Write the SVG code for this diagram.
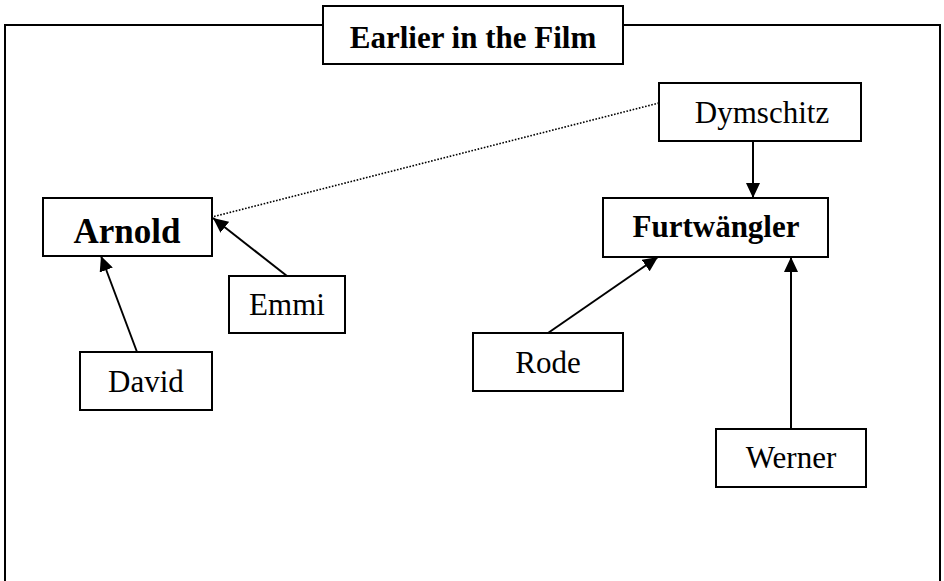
<svg xmlns="http://www.w3.org/2000/svg" width="944" height="581" viewBox="0 0 944 581">
  <style>
    .box { fill: #fff; stroke: #000; stroke-width: 2; }
    .lbl { font-family: "Liberation Serif", "Times New Roman", serif; font-size: 31px; fill: #000; text-anchor: middle; }
    .bold { font-weight: bold; }
    .edge { stroke: #000; stroke-width: 2; fill: none; marker-end: url(#arrow); }
    .dotted { stroke: #000; stroke-width: 1.6; stroke-dasharray: 1.6 1.6; fill: none; }
  </style>
  <defs>
    <marker id="arrow" markerUnits="userSpaceOnUse" markerWidth="16" markerHeight="14" refX="15" refY="7" orient="auto">
      <path d="M0,0 L15,7 L0,14 z" fill="#000"/>
    </marker>
  </defs>
  <rect width="944" height="581" fill="#fff"/>

  <!-- outer frame -->
  <rect id="frame" x="5" y="25" width="935" height="575" fill="none" stroke="#000" stroke-width="2"/>

  <!-- title -->
  <g id="title">
    <rect class="box" x="323" y="6" width="300" height="58"/>
    <text class="lbl bold" x="473" y="48">Earlier in the Film</text>
  </g>

  <!-- connectors -->
  <g id="connectors">
    <line class="dotted" x1="659" y1="103" x2="212" y2="217"/>
    <line class="edge" x1="287" y1="276" x2="213" y2="218"/>
    <line class="edge" x1="137" y1="352" x2="101" y2="256"/>
    <line class="edge" x1="753" y1="141" x2="753" y2="198"/>
    <line class="edge" x1="548" y1="333" x2="658" y2="257"/>
    <line class="edge" x1="791" y1="429" x2="791" y2="257"/>
  </g>

  <g id="arnold">
    <rect class="box" x="43" y="198" width="169" height="58"/>
    <text class="lbl bold" x="127" y="243" style="font-size:35px">Arnold</text>
  </g>
  <g id="emmi">
    <rect class="box" x="229" y="276" width="116" height="57"/>
    <text class="lbl" x="287" y="315">Emmi</text>
  </g>
  <g id="david">
    <rect class="box" x="80" y="352" width="132" height="58"/>
    <text class="lbl" x="146" y="392">David</text>
  </g>
  <g id="dymschitz">
    <rect class="box" x="659" y="83" width="202" height="58"/>
    <text class="lbl" x="762" y="123">Dymschitz</text>
  </g>
  <g id="furtwaengler">
    <rect class="box" x="603" y="198" width="225" height="59"/>
    <text class="lbl bold" x="716" y="237">Furtwängler</text>
  </g>
  <g id="rode">
    <rect class="box" x="473" y="333" width="150" height="58"/>
    <text class="lbl" x="548" y="373">Rode</text>
  </g>
  <g id="werner">
    <rect class="box" x="716" y="429" width="150" height="58"/>
    <text class="lbl" x="791" y="468">Werner</text>
  </g>
</svg>
